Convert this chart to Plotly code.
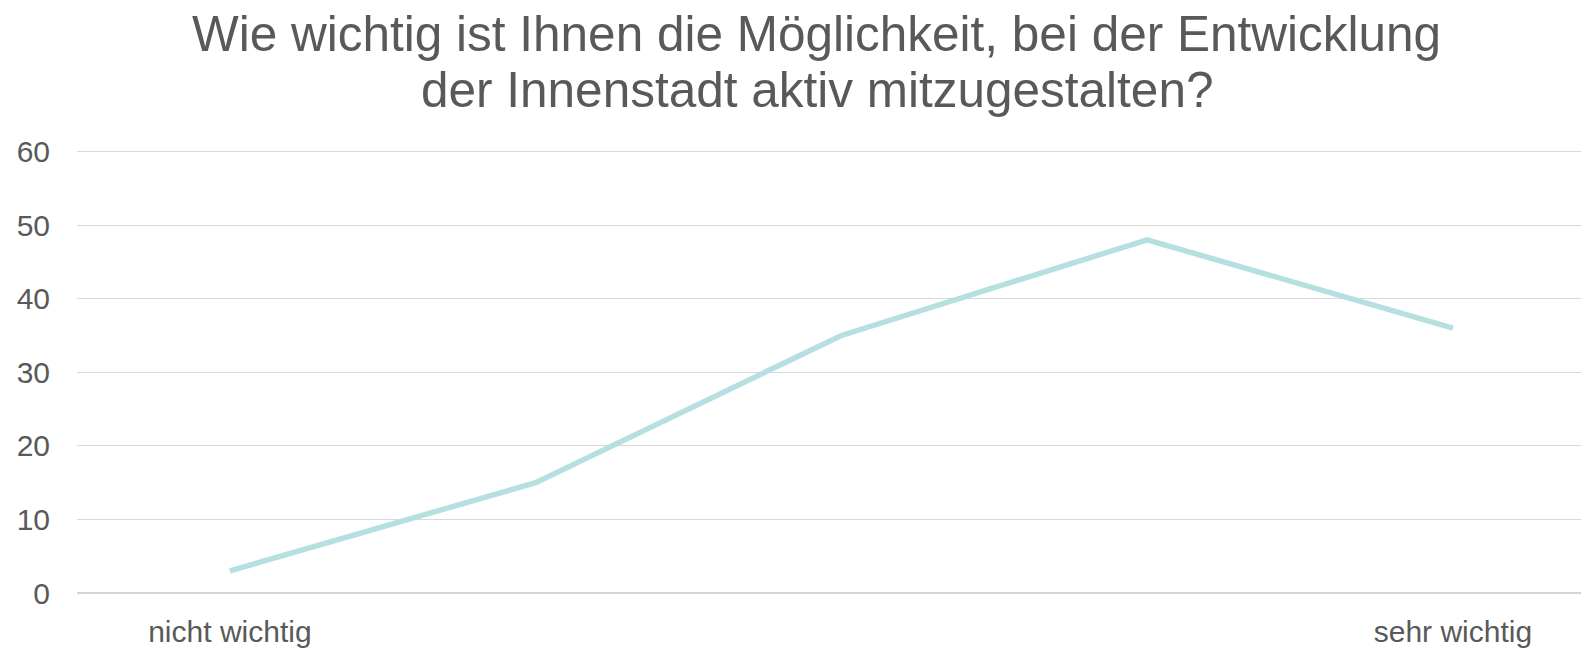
import plotly.graph_objects as go

categories = ["nicht wichtig", "", "", "", "sehr wichtig"]
values = [3, 15, 35, 48, 36]
y_ticks = [0, 10, 20, 30, 40, 50, 60]
title_lines = ["Wie wichtig ist Ihnen die Möglichkeit, bei der Entwicklung",
               "der Innenstadt aktiv mitzugestalten?"]

# page body has an 8px default margin: compensate
OFF = 8
W, H = 1589 - OFF, 648 - OFF
y_top = 60.2
mt, mb, ml, mr = 149.5 - OFF, 54.7, 77 - OFF, 0

x_idx = list(range(len(categories)))

fig = go.Figure()
fig.add_trace(go.Scatter(
    x=x_idx, y=values, mode="lines",
    line=dict(color="#B6DFE2", width=5.5),
    hoverinfo="y",
))

font_family = "Liberation Sans, Arial, sans-serif"
grey = "#595959"

fig.update_layout(
    width=W, height=H,
    margin=dict(t=mt, b=mb, l=ml, r=mr, autoexpand=False),
    paper_bgcolor="white", plot_bgcolor="white",
    showlegend=False,
    font=dict(family=font_family, color=grey),
    xaxis=dict(
        range=[-0.5, 4.445], automargin=False,
        tickmode="array", tickvals=x_idx, ticktext=categories,
        showgrid=False, zeroline=False, showline=False,
        ticks="", ticklabelstandoff=18,
        tickfont=dict(size=30, color=grey, family=font_family),
    ),
    yaxis=dict(
        range=[0, y_top], automargin=False,
        tickmode="array", tickvals=y_ticks,
        showgrid=True, gridcolor="#D9D9D9", gridwidth=1.3,
        zeroline=True, zerolinecolor="#D4D4D4", zerolinewidth=2,
        showline=False, ticks="", ticklabelstandoff=26,
        tickfont=dict(size=30, color=grey, family=font_family),
    ),
)

for line, ypix in zip(title_lines, [32.5, 88.5]):
    fig.add_annotation(
        text=line, xref="paper", yref="paper",
        x=(816.7 - OFF - ml) / (W - ml - mr),
        y=(H - mb - (ypix - OFF)) / (H - mt - mb),
        xanchor="center", yanchor="middle", showarrow=False,
        font=dict(size=49.5, color=grey, family=font_family),
    )

fig.write_html("out.html")
